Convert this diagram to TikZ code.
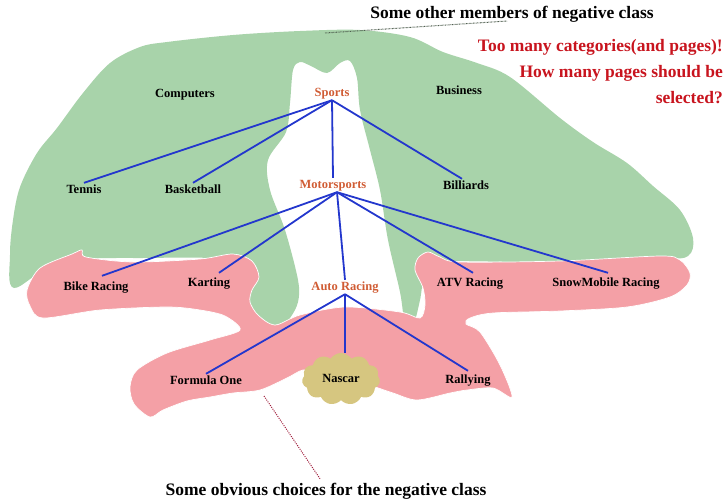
\documentclass[tikz,border=0pt]{standalone}
\usepackage{fontspec}
\setmainfont{Liberation Serif}
\usetikzlibrary{shapes.symbols}
\definecolor{leaf}{RGB}{168,211,170}
\definecolor{rose}{RGB}{244,160,166}
\definecolor{sand}{RGB}{214,198,128}
\definecolor{wire}{RGB}{35,55,205}
\definecolor{rust}{RGB}{208,92,52}
\definecolor{alert}{RGB}{200,20,30}
\definecolor{dotgray}{RGB}{80,95,80}
\definecolor{dotred}{RGB}{160,30,60}

\begin{document}
\begin{tikzpicture}[x=1pt,y=-1pt,
  lbl/.style={font=\bfseries\fontsize{12.5}{14}\selectfont, inner sep=1.5pt,
              text height=8.5pt, text depth=2.5pt},
  cat/.style={lbl, text=rust},
  link/.style={draw=wire, line width=1.8pt},
  note/.style={font=\bfseries\fontsize{17.5}{20}\selectfont, inner sep=0pt},
  warn/.style={note, text=alert, anchor=base east},
]
\useasboundingbox (0,0) rectangle (727,499);

% other categories (green region, with the white corridor around Sports)
\fill[leaf] plot[smooth cycle, tension=0.55] coordinates {
 (360,30) (410,37) (443,52) (477,63) (510,77) (560,118) (593,142) (627,163)
 (653,186) (680,210) (693,238) (688,256) (660,259) (540,262) (440,262)
 (425,275) (420,300) (414,322) (405,322) (400,292) (388,240) (380,190)
 (370,150) (360,110) (357,78) (350,61) (340,63) (327,73) (311,66) (300,62)
 (293,70) (290,103) (286,132) (268,160) (270,190) (285,230) (298,280)
 (298,302) (290,318) (280,327) (260,322) (245,300) (240,262) (140,258)
 (60,262) (14,288) (10,255) (13,220) (20,187) (37,153) (57,128) (83,93)
 (110,63) (140,47) (167,42) (233,35) (300,31)};

% motorsports region (pink)
\filldraw[fill=rose, draw=white, line width=0.7pt] plot[smooth cycle, tension=0.5] coordinates {
 (27,290) (40,268) (72,254) (82,250) (86,257) (133,262) (200,259) (233,254)
 (252,261) (259,277) (252,290) (250,302) (258,315) (275,325) (300,315)
 (345,307) (400,312) (420,318) (425,305) (423,288) (415,270) (418,258)
 (428,252) (440,257) (460,262) (560,261) (660,256) (680,260) (690,273)
 (687,285) (670,297) (627,307) (560,311) (493,313) (470,318) (466,324)
 (480,332) (500,365) (512,397) (493,388) (467,390) (450,393) (417,400)
 (393,393) (360,382) (320,372) (303,370) (287,378) (260,390) (233,393)
 (210,397) (187,401) (163,410) (150,417) (134,404) (130,387) (137,370)
 (167,353) (210,340) (240,330) (225,316) (200,310) (167,307) (100,310)
 (43,318) (30,306)};

% category nodes
\node[lbl] (computers) at (185,94) {Computers};
\node[cat] (sports) at (332,93) {Sports};
\node[lbl] (business) at (459,91) {Business};
\node[lbl] (tennis) at (84,190) {Tennis};
\node[lbl] (basketball) at (193,190) {Basketball};
\node[cat] (motor) at (333,185) {Motorsports};
\node[lbl] (billiards) at (466,186) {Billiards};
\node[lbl] (bike) at (96,287) {Bike Racing};
\node[lbl] (karting) at (209,283) {Karting};
\node[cat] (auto) at (345,287) {Auto Racing};
\node[lbl] (atv) at (470,283) {ATV Racing};
\node[lbl] (snow) at (606,283) {SnowMobile Racing};
\node[lbl] (formula) at (206,381) {Formula One};
\node[lbl, cloud, cloud puffs=11, cloud puff arc=115, aspect=1.5, fill=sand,
      minimum width=78pt, minimum height=52pt, inner sep=0pt] (nascar) at (341,379) {Nascar};
\node[lbl] (rally) at (468,380) {Rallying};

% hierarchy links
\draw[link] (sports.south) -- (tennis.north);
\draw[link] (sports.south) -- (basketball.north);
\draw[link] (sports.south) -- (motor.north);
\draw[link] (sports.south) -- ([xshift=-4pt]billiards.north);
\draw[link] ([xshift=4pt]motor.south) -- ([xshift=6pt,yshift=4pt]bike.north);
\draw[link] ([xshift=4pt]motor.south) -- ([xshift=10pt,yshift=3pt]karting.north);
\draw[link] ([xshift=4pt]motor.south) -- (auto.north);
\draw[link] ([xshift=4pt]motor.south) -- ([xshift=3pt,yshift=3pt]atv.north);
\draw[link] ([xshift=4pt]motor.south) -- ([xshift=2pt,yshift=3pt]snow.north);
\draw[link] (auto.south) -- (formula.north);
\draw[link] (auto.south) -- ([xshift=4pt]nascar.north);
\draw[link] (auto.south) -- ([yshift=2pt]rally.north);

% annotations
\node[note] (others) at (512,14) {Some other members of negative class};
\node[warn] (warn1) at (723,51) {Too many categories(and pages)!};
\node[warn] (warn2) at (723,77) {How many pages should be};
\node[warn] (warn3) at (723,103) {selected?};
\node[note] (negnote) at (326,491) {Some obvious choices for the negative class};

\coordinate (greentop) at (325,33);
\coordinate (otherstip) at (507,21);
\coordinate (pinkedge) at (264,396);
\draw[dotgray, line width=1pt, dash pattern=on 0.7pt off 0.7pt] (greentop) -- (otherstip);
\draw[dotred, line width=1pt, dash pattern=on 1pt off 1.2pt] (pinkedge) -- ([xshift=-6pt,yshift=4pt]negnote.north);
\end{tikzpicture}
\end{document}
